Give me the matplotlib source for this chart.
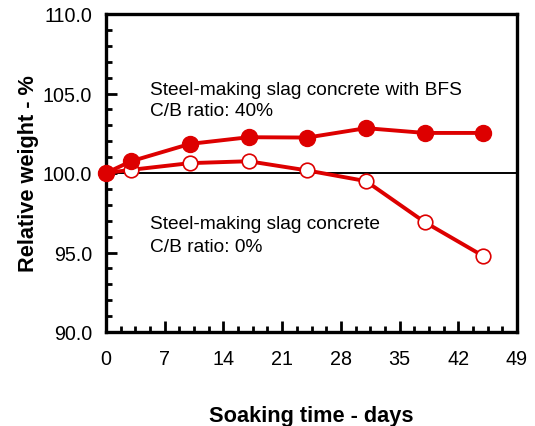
import matplotlib
matplotlib.use("Agg")
import matplotlib.pyplot as plt
from matplotlib.ticker import MultipleLocator

plt.rcParams['font.family'] = ['Liberation Sans', 'DejaVu Sans']

days = [0, 3, 10, 17, 24, 31, 38, 45]
bfs_40 = [100.0, 100.74, 101.83, 102.25, 102.23, 102.82, 102.52, 102.52]
slag_0 = [100.0, 100.2, 100.62, 100.74, 100.16, 99.49, 96.91, 94.77]

x_ticks = [0, 7, 14, 21, 28, 35, 42, 49]
y_ticks = [90.0, 95.0, 100.0, 105.0, 110.0]

red = '#dd0000'

fig = plt.figure(figsize=(5.35, 4.27), dpi=100)
ax = fig.add_axes([106 / 535, 1 - 333 / 427, (517 - 106) / 535, (333 - 15) / 427])

ax.axhline(100.0, color='black', lw=1.4, zorder=1)

ax.plot(days, slag_0, color=red, lw=2.8, marker='o', ms=10.5,
        mfc='white', mec=red, mew=1.2, zorder=3, clip_on=False)
ax.plot(days, bfs_40, color=red, lw=2.8, marker='o', ms=11.5,
        mfc=red, mec=red, zorder=4, clip_on=False)

label_size = 13.8
ax.text(5.2, 105.25, 'Steel-making slag concrete with BFS', fontsize=label_size,
        va='center', ha='left')
ax.text(5.2, 103.9, 'C/B ratio: 40%', fontsize=label_size, va='center', ha='left')
ax.text(5.2, 96.85, 'Steel-making slag concrete', fontsize=label_size,
        va='center', ha='left')
ax.text(5.2, 95.4, 'C/B ratio: 0%', fontsize=label_size, va='center', ha='left')

ax.set_xlim(0, 49)
ax.set_ylim(90, 110)
ax.set_xticks(x_ticks)
ax.set_yticks(y_ticks)
ax.set_yticklabels([f'{v:.1f}' for v in y_ticks])
ax.xaxis.set_minor_locator(MultipleLocator(1.75))
ax.yaxis.set_minor_locator(MultipleLocator(1))

ax.tick_params(which='both', direction='in', top=False, right=False,
               width=2, labelsize=14.2, colors='black')
ax.tick_params(which='major', length=8)
ax.tick_params(which='minor', length=4)
ax.tick_params(axis='y', which='major', pad=10)
ax.tick_params(axis='x', which='major', pad=12)

for s in ax.spines.values():
    s.set_linewidth(2.4)

ax.set_xlabel('Soaking time - days', fontsize=15.7, fontweight='bold', labelpad=27)
ax.set_ylabel('Relative weight - %', fontsize=15.7, fontweight='bold', labelpad=3)

fig.savefig('out.png', dpi=100)
